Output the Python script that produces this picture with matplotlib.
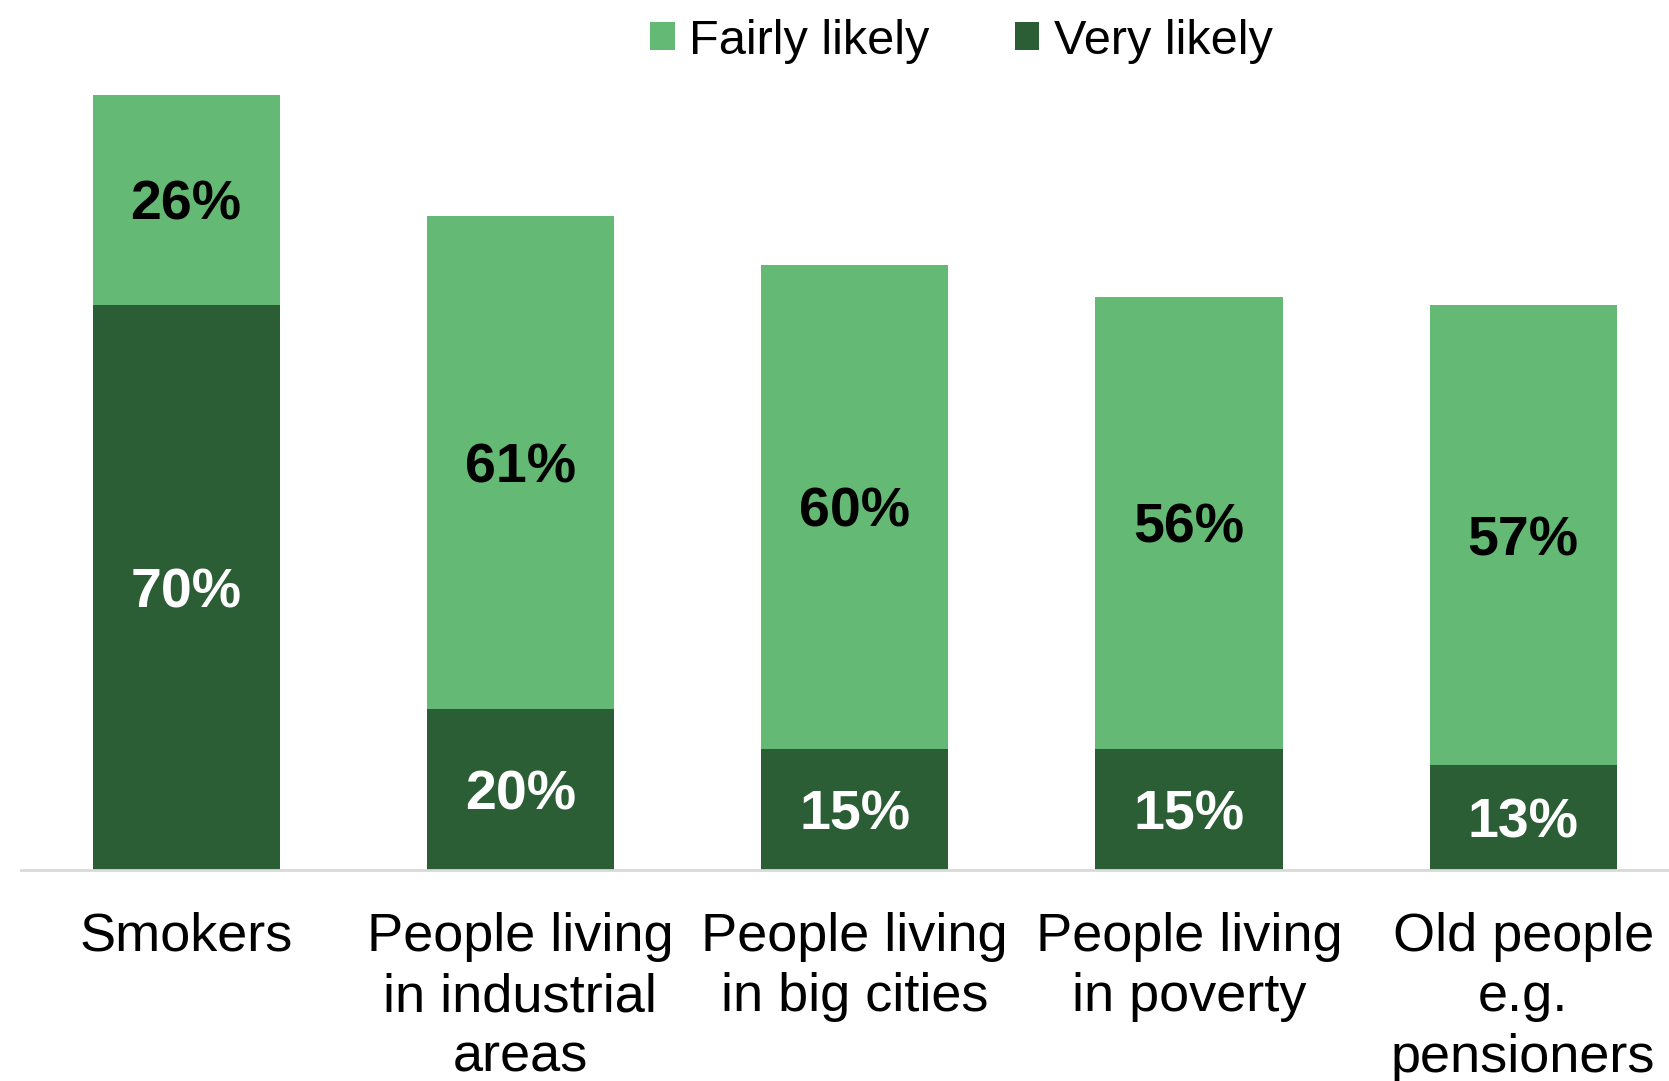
import matplotlib.pyplot as plt
import numpy as np

plt.rcParams['font.family'] = ['Liberation Sans', 'DejaVu Sans']

groups = ['Smokers', 'People living\nin industrial\nareas', 'People living\nin big cities',
          'People living\nin poverty', 'Old people\ne.g.\npensioners']
very_likely = [70, 20, 15, 15, 13]
fairly_likely = [26, 61, 60, 56, 57]

light_green = '#64BA74'
dark_green = '#2B5E35'

fig = plt.figure(figsize=(16.69, 10.81), dpi=100)
ax = fig.add_axes([0.0126, 0.195, 0.9874, 0.747])

x = np.arange(len(groups))
w = 0.56
b1 = ax.bar(x, very_likely, width=w, color=dark_green, label='Very likely')
b2 = ax.bar(x, fairly_likely, width=w, bottom=very_likely, color=light_green, label='Fairly likely')

# percentage labels in the middle of each segment
for i in range(len(groups)):
    ax.text(x[i], very_likely[i] / 2, f'{very_likely[i]}%', ha='center', va='center_baseline',
            fontsize=40, fontweight='bold', color='white')
    ax.text(x[i], very_likely[i] + fairly_likely[i] / 2, f'{fairly_likely[i]}%', ha='center',
            va='center_baseline', fontsize=40, fontweight='bold', color='black')

ax.set_xlim(-0.494, 4.436)
ax.set_ylim(0, 100)
ax.set_xticks(x)
ax.set_xticklabels(groups, fontsize=39, linespacing=1.27, va='top')
ax.tick_params(axis='x', length=0, pad=30)
ax.set_yticks([])
for s in ['top', 'right', 'left']:
    ax.spines[s].set_visible(False)
ax.spines['bottom'].set_color('#D9D9D9')
ax.spines['bottom'].set_linewidth(2)

leg = fig.legend(handles=[b2, b1], labels=['Fairly likely', 'Very likely'], loc='center',
                 bbox_to_anchor=(0.576, 0.962), ncol=2, frameon=False, fontsize=35,
                 handlelength=0.5, handleheight=0.5, handletextpad=0.3, columnspacing=1.75)

fig.savefig('out.png', dpi=100)
